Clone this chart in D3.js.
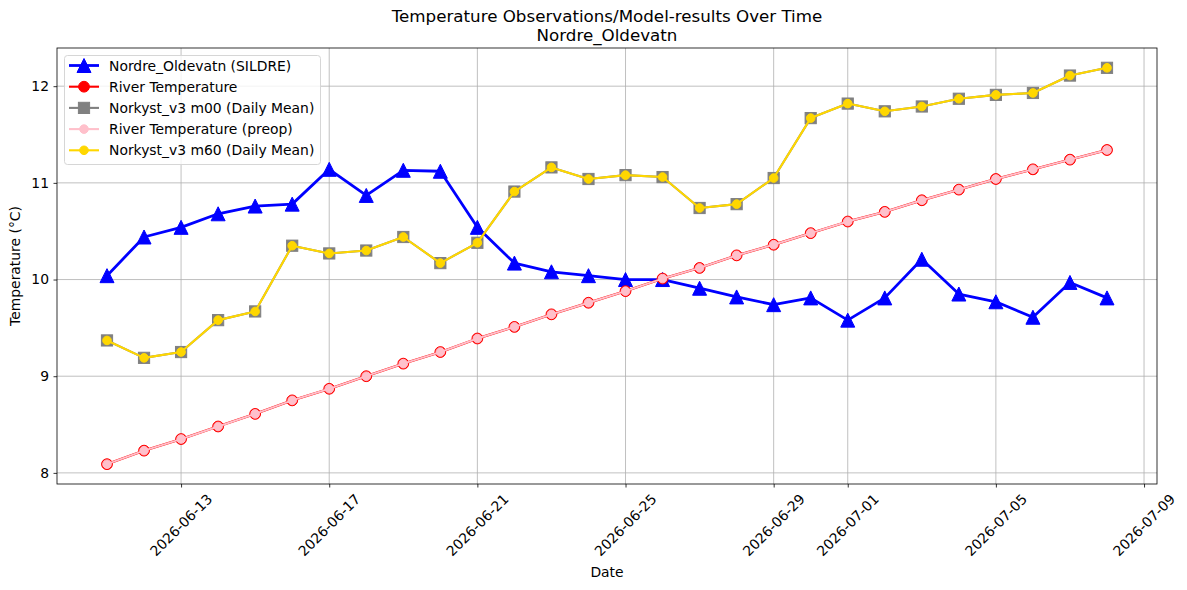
<!DOCTYPE html>
<html lang="en">
<head>
<meta charset="utf-8">
<script src="https://cdnjs.cloudflare.com/ajax/libs/d3/7.8.5/d3.min.js"></script>
<style>
  body { margin: 0; background: #fff; }
  text { font-family: "DejaVu Sans", sans-serif; fill: #000; }
</style>
</head>
<body>
<script>
// dates of the daily points
var dates = ["2026-06-11","2026-06-12","2026-06-13","2026-06-14","2026-06-15","2026-06-16","2026-06-17",
  "2026-06-18","2026-06-19","2026-06-20","2026-06-21","2026-06-22","2026-06-23","2026-06-24",
  "2026-06-25","2026-06-26","2026-06-27","2026-06-28","2026-06-29","2026-06-30","2026-07-01",
  "2026-07-02","2026-07-03","2026-07-04","2026-07-05","2026-07-06","2026-07-07","2026-07-08"];

var sildre = [10.04, 10.44, 10.54, 10.68, 10.76, 10.78, 11.14, 10.87, 11.13, 11.12, 10.54, 10.17, 10.08, 10.04,
  10.00, 10.00, 9.91, 9.82, 9.74, 9.81, 9.58, 9.81, 10.21, 9.85, 9.77, 9.61, 9.97, 9.81];

var riverTemp = [8.09, 8.23, 8.35, 8.48, 8.61, 8.75, 8.87, 9.00, 9.13, 9.25, 9.39, 9.51, 9.64, 9.76,
  9.88, 10.01, 10.12, 10.25, 10.36, 10.48, 10.60, 10.70, 10.82, 10.93, 11.04, 11.14, 11.24, 11.34];

var riverPreop = [8.09, 8.23, 8.35, 8.48, 8.61, 8.75, 8.87, 9.00, 9.13, 9.25, 9.39, 9.51, 9.64, 9.76,
  9.88, 10.01, 10.12, 10.25, 10.36, 10.48, 10.60, 10.70, 10.82, 10.93, 11.04, 11.14, 11.24, 11.34];

var m00 = [9.37, 9.19, 9.25, 9.58, 9.67, 10.35, 10.27, 10.30, 10.44, 10.17, 10.38, 10.91, 11.16, 11.04,
  11.08, 11.06, 10.74, 10.78, 11.05, 11.67, 11.82, 11.74, 11.79, 11.87, 11.91, 11.93, 12.11, 12.19];

var m60 = [9.37, 9.19, 9.25, 9.58, 9.67, 10.35, 10.27, 10.30, 10.44, 10.17, 10.38, 10.91, 11.16, 11.04,
  11.08, 11.06, 10.74, 10.78, 11.05, 11.67, 11.82, 11.74, 11.79, 11.87, 11.91, 11.93, 12.11, 12.19];

var xTickLabels = ["2026-06-13","2026-06-17","2026-06-21","2026-06-25","2026-06-29","2026-07-01","2026-07-05","2026-07-09"];
var yTicks = [8, 9, 10, 11, 12];

var W = 1187, H = 590;
var mLeft = 57, mTop = 48, pw = 1100, ph = 436;

var parse = d3.utcParse("%Y-%m-%d");
var days = dates.map(parse);

var svg = d3.select("body").append("svg").attr("width", W).attr("height", H);

// matplotlib style 5% margins
var t0 = days[0], t1 = days[days.length - 1];
var pad = (t1 - t0) * 0.05;
var x = d3.scaleUtc().domain([new Date(+t0 - pad), new Date(+t1 + pad)]).range([mLeft, mLeft + pw]);

var all = sildre.concat(riverTemp, riverPreop, m00, m60);
var ymin = d3.min(all), ymax = d3.max(all), ypad = (ymax - ymin) * 0.05;
var y = d3.scaleLinear().domain([ymin - ypad, ymax + ypad]).range([mTop + ph, mTop]);

// grid
var g = svg.append("g");
g.selectAll(".gx").data(xTickLabels).enter().append("line")
  .attr("x1", d => x(parse(d))).attr("x2", d => x(parse(d)))
  .attr("y1", mTop).attr("y2", mTop + ph)
  .attr("stroke", "#b0b0b0").attr("stroke-width", 0.8);
g.selectAll(".gy").data(yTicks).enter().append("line")
  .attr("x1", mLeft).attr("x2", mLeft + pw)
  .attr("y1", d => y(d)).attr("y2", d => y(d))
  .attr("stroke", "#b0b0b0").attr("stroke-width", 0.8);

// axes
var xAxis = svg.append("g").attr("transform", "translate(0," + (mTop + ph) + ")")
  .call(d3.axisBottom(x).tickValues(xTickLabels.map(parse)).tickSize(3.5).tickFormat(""));
xAxis.select(".domain").remove();
xAxis.selectAll("line").attr("stroke", "#000").attr("stroke-width", 0.8);

svg.selectAll(".xl").data(xTickLabels).enter().append("text")
  .attr("transform", d => "translate(" + x(parse(d)) + "," + (mTop + ph + 41) + ") rotate(-45)")
  .attr("text-anchor", "middle").attr("dominant-baseline", "central")
  .style("font-size", "13.9px").text(d => d);

var yAxis = svg.append("g").attr("transform", "translate(" + mLeft + ",0)")
  .call(d3.axisLeft(y).tickValues(yTicks).tickSize(3.5).tickPadding(4.5).tickFormat(d3.format("d")));
yAxis.select(".domain").remove();
yAxis.selectAll("line").attr("stroke", "#000").attr("stroke-width", 0.8);
yAxis.selectAll("text").style("font-size", "13.9px").style("font-family", "DejaVu Sans");

// series
function tri(s) { return "M0," + (-s) + "L" + s + "," + s + "L" + (-s) + "," + s + "Z"; }
function drawLine(vals, color, w) {
  var line = d3.line().x((d, i) => x(days[i])).y(d => y(d));
  svg.append("path").datum(vals).attr("d", line).attr("fill", "none")
    .attr("stroke", color).attr("stroke-width", w).attr("stroke-linejoin", "round");
}

drawLine(sildre, "blue", 2.8);
svg.append("g").selectAll("path").data(sildre).enter().append("path")
  .attr("d", tri(7)).attr("transform", (d, i) => "translate(" + x(days[i]) + "," + y(d) + ")")
  .attr("fill", "blue").attr("stroke", "blue");

drawLine(riverTemp, "red", 2.4);
svg.append("g").selectAll("circle").data(riverTemp).enter().append("circle")
  .attr("cx", (d, i) => x(days[i])).attr("cy", d => y(d)).attr("r", 5.4)
  .attr("fill", "red").attr("stroke", "red");

drawLine(m00, "gray", 2.1);
svg.append("g").selectAll("rect").data(m00).enter().append("rect")
  .attr("x", (d, i) => x(days[i]) - 5.6).attr("y", d => y(d) - 5.6)
  .attr("width", 11.2).attr("height", 11.2)
  .attr("fill", "gray").attr("stroke", "gray");

drawLine(riverPreop, "pink", 1.9);
svg.append("g").selectAll("circle").data(riverPreop).enter().append("circle")
  .attr("cx", (d, i) => x(days[i])).attr("cy", d => y(d)).attr("r", 4.3)
  .attr("fill", "pink").attr("stroke", "pink");

drawLine(m60, "gold", 2.1);
svg.append("g").selectAll("circle").data(m60).enter().append("circle")
  .attr("cx", (d, i) => x(days[i])).attr("cy", d => y(d)).attr("r", 4.3)
  .attr("fill", "gold").attr("stroke", "gold");

// frame
svg.append("rect").attr("x", mLeft).attr("y", mTop).attr("width", pw).attr("height", ph)
  .attr("fill", "none").attr("stroke", "#000").attr("stroke-width", 0.8);

// titles
svg.append("text").attr("x", mLeft + pw / 2).attr("y", 22).attr("text-anchor", "middle")
  .style("font-size", "16.7px").text("Temperature Observations/Model-results Over Time");
svg.append("text").attr("x", mLeft + pw / 2).attr("y", 41).attr("text-anchor", "middle")
  .style("font-size", "16.7px").text("Nordre_Oldevatn");
svg.append("text").attr("x", mLeft + pw / 2).attr("y", 577).attr("text-anchor", "middle")
  .style("font-size", "13.9px").text("Date");
svg.append("text").attr("transform", "translate(20," + (mTop + ph / 2) + ") rotate(-90)")
  .attr("text-anchor", "middle").style("font-size", "13.9px").text("Temperature (°C)");

// legend
var legendItems = [
  { name: "Nordre_Oldevatn (SILDRE)", color: "blue", lw: 2.8, mark: "tri" },
  { name: "River Temperature", color: "red", lw: 2.1, mark: "bigcircle" },
  { name: "Norkyst_v3 m00 (Daily Mean)", color: "gray", lw: 2.1, mark: "square" },
  { name: "River Temperature (preop)", color: "pink", lw: 2.1, mark: "circle" },
  { name: "Norkyst_v3 m60 (Daily Mean)", color: "gold", lw: 2.1, mark: "circle" }
];
var lg = svg.append("g");
lg.append("rect").attr("x", 64.5).attr("y", 55.5).attr("width", 256).attr("height", 109)
  .attr("rx", 3).attr("fill", "#fff").attr("fill-opacity", 0.8)
  .attr("stroke", "#d6d6d6").attr("stroke-width", 1);
legendItems.forEach(function (it, i) {
  var cy = 65.5 + i * 21.2;
  lg.append("line").attr("x1", 69).attr("x2", 99).attr("y1", cy).attr("y2", cy)
    .attr("stroke", it.color).attr("stroke-width", it.lw);
  if (it.mark === "tri") {
    lg.append("path").attr("d", tri(7)).attr("transform", "translate(84," + cy + ")")
      .attr("fill", it.color).attr("stroke", it.color);
  } else if (it.mark === "square") {
    lg.append("rect").attr("x", 84 - 5.6).attr("y", cy - 5.6).attr("width", 11.2).attr("height", 11.2)
      .attr("fill", it.color).attr("stroke", it.color);
  } else {
    lg.append("circle").attr("cx", 84).attr("cy", cy).attr("r", it.mark === "bigcircle" ? 5.4 : 4.3)
      .attr("fill", it.color).attr("stroke", it.color);
  }
  lg.append("text").attr("x", 109).attr("y", cy).attr("dominant-baseline", "central")
    .style("font-size", "13.9px").text(it.name);
});
</script>
</body>
</html>
